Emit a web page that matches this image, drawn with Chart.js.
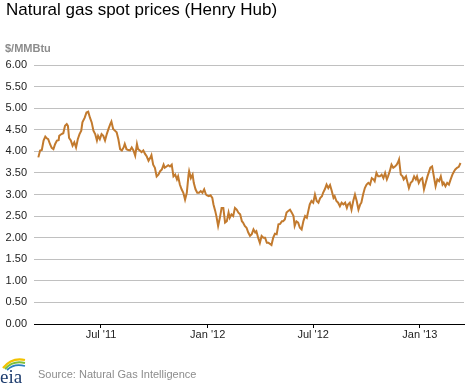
<!DOCTYPE html>
<html>
<head>
<meta charset="utf-8">
<title>Natural gas spot prices (Henry Hub)</title>
<script src="https://cdn.jsdelivr.net/npm/chart.js@4.4.1/dist/chart.umd.min.js"></script>
<style>
  body { margin: 0; background: #fff; }
  #wrap { position: relative; width: 470px; height: 383px; font-family: "Liberation Sans", Arial, sans-serif; }
  #chart { position: absolute; left: 0; top: 0; }
  .title { position: absolute; left: 6px; top: 0px; font-size: 17px; color: #000; }
  .unit { position: absolute; left: 5px; top: 42px; font-size: 11px; font-weight: bold; color: #8c8c8c; }
  .source { position: absolute; left: 38px; top: 368px; font-size: 11px; color: #8c8c8c; }
  .logo { position: absolute; left: 0; top: 355px; }
</style>
</head>
<body>
<div id="wrap">
  <canvas id="chart" width="470" height="383"></canvas>
  <div class="title">Natural gas spot prices (Henry Hub)</div>
  <div class="unit">$/MMBtu</div>
  <svg class="logo" width="30" height="28" viewBox="0 0 30 28">
    <path d="M3 13 Q12 2 25 5" stroke="#f2c200" stroke-width="2.2" fill="none"/>
    <path d="M5 14 Q13 5 25 8" stroke="#7bbf3a" stroke-width="2" fill="none"/>
    <path d="M7 15 Q14 8 25 11" stroke="#2a7fc1" stroke-width="1.8" fill="none"/>
    <text x="0" y="28" font-family="Liberation Serif, serif" font-size="19" fill="#1d3c6e">eia</text>
  </svg>
  <div class="source">Source: Natural Gas Intelligence</div>
</div>
<script>
// ---------- Dades (dies des de l'1 de gener de 2011) ----------
const days = [
  73, 76, 79, 82, 85, 87, 90, 93, 96, 99, 102, 105, 108, 109, 113, 116, 119, 122, 124, 126,
  129, 132, 135, 138, 141, 144, 147, 149, 153, 156, 159, 162, 165, 168, 171, 174, 176, 179, 182, 185,
  188, 191, 194, 197, 199, 202, 205, 208, 211, 214, 217, 220, 222, 225, 228, 231, 234, 237, 240, 243,
  245, 248, 251, 254, 257, 260, 263,
  266, 268, 271, 274, 277, 280, 283, 286, 289, 291, 294, 297, 300, 303, 306, 309, 312, 314, 317, 320,
  323, 326, 329, 332, 333, 336, 339, 341, 344, 347, 350, 353, 356, 359, 362, 364, 367, 370, 373, 375,
  378, 380, 383, 386, 389, 392, 395, 398, 401, 403, 406, 409, 412, 415, 418, 421, 424, 426, 429, 432,
  435, 438, 441, 444, 447, 449, 452, 455, 458, 461, 464, 467, 470, 472, 475, 478, 481, 484, 487, 490,
  493, 495, 498, 501, 504, 507, 510, 513, 515, 518, 521, 524,
  527, 530, 533, 536, 539, 541, 544, 547, 550, 553, 556, 559, 562, 564, 567, 570, 573, 576, 579, 582,
  584, 587, 590, 593, 596, 599, 602, 605, 607, 610, 613, 616, 619, 622, 625, 628, 630, 633, 636, 639,
  642, 645, 648, 651, 653, 656, 659, 662, 665, 668, 671, 674, 676, 679, 682, 685, 688, 691, 694, 695,
  698, 701, 703, 707, 709, 712, 715, 718, 721, 724, 726, 729, 732, 735, 738, 741, 744, 747, 749, 752,
  755, 758, 761, 764, 767, 770, 772, 775, 778, 781, 784, 787, 790, 792, 795, 798, 801
];
const prices = [
  3.86, 4.02, 4.03, 4.25, 4.34, 4.31, 4.28, 4.17, 4.08, 4.05, 4.17, 4.25, 4.26, 4.36, 4.40, 4.42, 4.59, 4.63, 4.59, 4.31,
  4.25, 4.13, 4.21, 4.09, 4.28, 4.40, 4.48, 4.67, 4.78, 4.90, 4.92, 4.78, 4.67, 4.48, 4.40, 4.25, 4.36, 4.28, 4.40, 4.36,
  4.25, 4.40, 4.52, 4.63, 4.69, 4.52, 4.48, 4.44, 4.28, 4.05, 4.02, 4.09, 4.17, 4.05, 4.03, 4.02, 4.09, 4.02, 3.90, 4.17,
  4.05, 4.02, 3.98, 4.02, 3.94, 3.88, 3.78,
  3.85, 3.91, 3.69, 3.62, 3.42, 3.46, 3.54, 3.58, 3.69, 3.62, 3.65, 3.68, 3.65, 3.69, 3.42, 3.46, 3.35, 3.42, 3.23, 3.12,
  3.04, 2.88, 3.04, 3.46, 3.54, 3.38, 3.46, 3.27, 3.12, 3.04, 3.04, 3.08, 3.04, 3.12, 3.00, 2.98, 2.96, 2.98, 2.92, 2.77,
  2.62, 2.50, 2.27, 2.46, 2.69, 2.69, 2.35, 2.38, 2.58, 2.46, 2.54, 2.50, 2.69, 2.65, 2.58, 2.54, 2.38, 2.35, 2.27, 2.23,
  2.12, 2.04, 2.08, 2.19, 2.12, 2.15, 2.00, 1.88, 2.04, 2.00, 2.00, 1.88, 1.88, 1.86, 1.83, 2.00, 2.09, 2.08, 2.31, 2.32,
  2.38, 2.38, 2.42, 2.58, 2.62, 2.65, 2.58, 2.50, 2.27, 2.38, 2.35, 2.23,
  2.19, 2.38, 2.50, 2.46, 2.65, 2.77, 2.85, 2.81, 3.00, 2.85, 2.81, 2.92, 2.96, 3.04, 3.12, 3.23, 3.15, 3.22, 3.08, 2.92,
  2.96, 2.85, 2.81, 2.73, 2.81, 2.77, 2.81, 2.69, 2.77, 2.81, 2.65, 2.85, 3.00, 2.85, 2.65, 2.77, 2.81, 3.00, 3.15, 3.23,
  3.27, 3.23, 3.38, 3.35, 3.31, 3.50, 3.42, 3.42, 3.46, 3.38, 3.50, 3.35, 3.42, 3.54, 3.69, 3.62, 3.65, 3.69, 3.77, 3.81,
  3.46, 3.42, 3.35, 3.42, 3.31, 3.15, 3.27, 3.31, 3.42, 3.35, 3.42, 3.27, 3.35, 3.38, 3.12, 3.27, 3.42, 3.54, 3.62, 3.65,
  3.42, 3.19, 3.35, 3.31, 3.42, 3.23, 3.27, 3.19, 3.27, 3.23, 3.35, 3.46, 3.54, 3.58, 3.62, 3.64, 3.73
];

// marques de l'eix X (1 jul 2011, 1 gen 2012, 1 jul 2012, 1 gen 2013)
const tickDays = [181, 365, 547, 731];
const tickLabels = ["Jul '11", "Jan '12", "Jul '12", "Jan '13"];

// ---------- Gràfica ----------
const ctx = document.getElementById('chart').getContext('2d');

new Chart(ctx, {
  type: 'line',
  data: {
    datasets: [{
      data: days.map((d, i) => ({ x: d, y: prices[i] })),
      borderColor: '#c27a2e',
      borderWidth: 2,
      pointRadius: 0,
      tension: 0
    }]
  },
  options: {
    responsive: false,
    animation: false,
    layout: { padding: { top: 65, right: 6, bottom: 39, left: 0 } },
    plugins: {
      legend: { display: false },
      tooltip: { enabled: false }
    },
    scales: {
      x: {
        type: 'linear',
        min: 65.5,
        max: 807,
        afterBuildTicks: scale => {
          scale.ticks = tickDays.map(v => ({ value: v }));
        },
        afterFit: scale => { scale.height = 20; },
        ticks: {
          autoSkip: false,
          maxRotation: 0,
          padding: 0,
          color: '#222',
          font: { family: 'Liberation Sans', size: 11 },
          callback: value => tickLabels[tickDays.indexOf(value)]
        },
        grid: { drawOnChartArea: false, drawTicks: true, tickLength: 4, color: '#000' },
        border: { display: true, color: '#000', width: 1 }
      },
      y: {
        min: 0,
        max: 6,
        afterFit: scale => { scale.width = 34; },
        ticks: {
          stepSize: 0.5,
          padding: 7,
          color: '#222',
          font: { family: 'Liberation Sans', size: 11 },
          callback: value => value.toFixed(2)
        },
        grid: { color: '#c0c0c0', drawTicks: false },
        border: { display: false }
      }
    }
  }
});
</script>
</body>
</html>
